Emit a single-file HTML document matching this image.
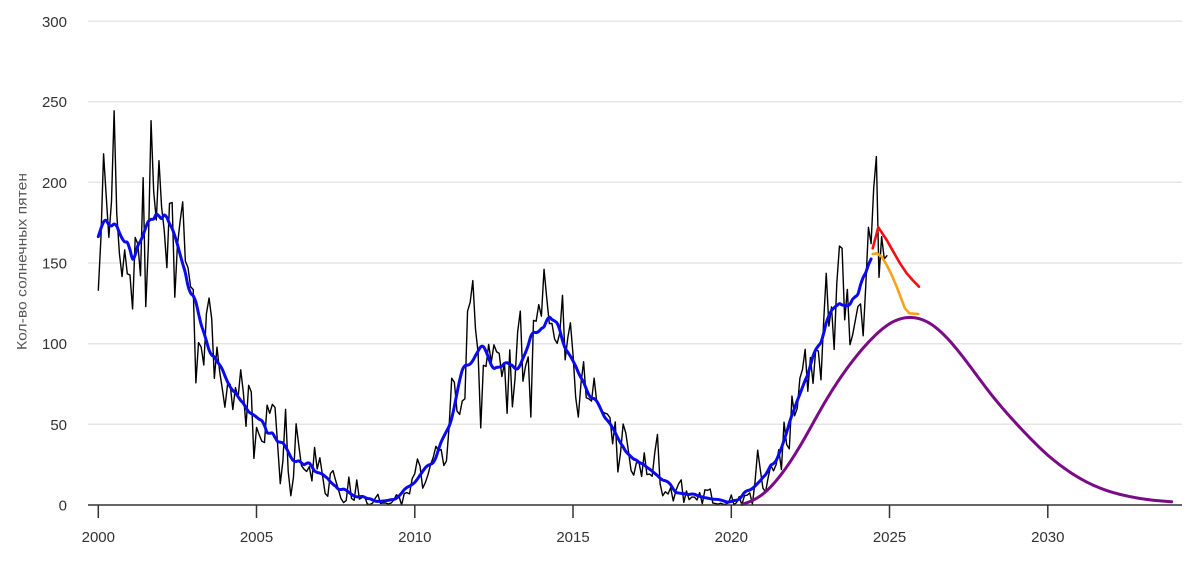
<!DOCTYPE html>
<html>
<head>
<meta charset="utf-8">
<style>
  html,body{margin:0;padding:0;background:#fff;}
  svg{display:block;}
  text{font-family:"Liberation Sans","DejaVu Sans",sans-serif;}
</style>
</head>
<body>
<svg id="chart" width="1200" height="561" viewBox="0 0 1200 561" xmlns="http://www.w3.org/2000/svg">
  <rect x="0" y="0" width="1200" height="561" fill="#ffffff"/>
  <g stroke="#e6e6e6" stroke-width="1.5">
    <line x1="88" y1="21.3" x2="1182" y2="21.3"/>
    <line x1="88" y1="101.7" x2="1182" y2="101.7"/>
    <line x1="88" y1="182.3" x2="1182" y2="182.3"/>
    <line x1="88" y1="263" x2="1182" y2="263"/>
    <line x1="88" y1="343.7" x2="1182" y2="343.7"/>
    <line x1="88" y1="424.3" x2="1182" y2="424.3"/>
  </g>
  <g fill="#333" font-size="15" text-anchor="end">
    <text x="67" y="26.8">300</text>
    <text x="67" y="107.2">250</text>
    <text x="67" y="187.8">200</text>
    <text x="67" y="268.5">150</text>
    <text x="67" y="349.2">100</text>
    <text x="67" y="429.8">50</text>
    <text x="67" y="510.5">0</text>
  </g>
  <text x="0" y="0" transform="translate(26.5,261.5) rotate(-90)" text-anchor="middle" font-size="14" fill="#555" textLength="177" lengthAdjust="spacingAndGlyphs">Кол-во солнечных пятен</text>

  <g id="series"></g>

  <line x1="88" y1="505" x2="1182" y2="505" stroke="#333" stroke-width="1.5"/>
  <g stroke="#333" stroke-width="1.5">
    <line x1="98.3" y1="505" x2="98.3" y2="518"/>
    <line x1="256.5" y1="505" x2="256.5" y2="518"/>
    <line x1="414.8" y1="505" x2="414.8" y2="518"/>
    <line x1="573" y1="505" x2="573" y2="518"/>
    <line x1="731.3" y1="505" x2="731.3" y2="518"/>
    <line x1="889.5" y1="505" x2="889.5" y2="518"/>
    <line x1="1047.8" y1="505" x2="1047.8" y2="518"/>
  </g>
  <g fill="#333" font-size="15" text-anchor="middle">
    <text x="98.3" y="542">2000</text>
    <text x="256.5" y="542">2005</text>
    <text x="414.8" y="542">2010</text>
    <text x="573" y="542">2015</text>
    <text x="731.3" y="542">2020</text>
    <text x="889.5" y="542">2025</text>
    <text x="1047.8" y="542">2030</text>
  </g>
</svg>
<script>
(function(){
var d=[
133.1,165.7,217.7,191.5,165.9,188.0,244.3,180.5,156.0,141.6,158.1,143.3,
142.6,121.5,165.8,161.7,142.1,202.9,123.0,161.5,238.2,194.1,176.6,213.4,
184.6,170.2,147.1,186.9,187.5,128.8,161.0,175.6,187.9,151.2,147.2,135.3,
133.5,75.7,100.7,97.9,86.8,118.7,128.3,115.4,78.5,97.8,82.9,72.2,
60.6,74.6,74.8,59.2,72.8,66.5,83.8,69.7,48.8,74.2,70.1,28.9,
48.1,43.5,39.6,38.7,61.9,56.8,62.4,60.5,37.2,13.2,27.5,59.3,
20.9,5.7,17.3,50.3,37.2,24.5,22.2,20.8,23.7,14.9,35.7,22.3,
29.3,18.4,7.2,5.4,19.5,21.3,15.1,9.8,4.0,1.5,2.8,17.3,
4.1,2.9,15.5,3.6,4.6,5.2,0.6,0.3,1.2,4.2,6.6,1.0,
1.3,1.2,0.6,1.2,2.9,6.3,5.5,0.0,7.1,7.7,6.9,16.3,
19.5,28.5,24.0,10.4,13.9,18.8,25.2,29.6,36.4,33.6,34.4,24.5,
27.3,48.3,78.6,76.1,58.2,56.1,64.5,65.8,120.1,125.7,139.1,109.3,
94.4,47.8,86.6,85.9,99.5,88.6,99.3,95.0,94.0,79.6,87.8,56.8,
96.1,60.9,78.3,107.3,120.2,76.7,86.2,91.8,54.5,114.4,113.9,124.2,
117.0,146.1,128.7,112.5,112.5,102.9,100.2,106.9,130.0,90.0,103.6,112.9,
93.0,66.7,54.5,75.3,88.8,66.5,65.8,64.4,78.6,63.6,62.2,58.0,
57.0,56.4,54.1,37.9,51.5,20.5,32.4,50.2,44.6,33.4,21.4,18.5,
26.1,26.4,17.7,32.3,18.9,19.2,17.8,32.6,43.7,13.2,5.7,8.2,
6.8,10.7,2.5,8.9,13.1,15.6,1.6,8.7,3.3,4.9,4.9,3.1,
7.7,0.8,9.4,9.1,9.9,1.2,0.9,0.5,1.1,0.4,0.5,1.6,
6.2,0.2,1.5,5.2,0.2,5.8,6.1,7.5,0.6,14.4,34.0,21.8,
10.4,8.2,17.2,24.5,21.2,25.0,34.3,22.0,51.3,37.4,34.8,67.5,
55.3,59.9,78.5,84.1,96.5,70.5,91.4,75.4,96.3,95.4,77.6,113.1,
143.6,110.9,122.8,96.4,137.4,160.5,159.1,114.8,133.6,99.4,105.4,114.2,
123.0,124.7,104.9,136.5,172.1,162.0,196.6,216.0,141.1,166.3,152.5,154.5
];
var pre=[166,137,104,170,194,124];
function X(y){return 98.3+y*31.65;}
function Y(v){return 505-v*1.6133;}
var NS="http://www.w3.org/2000/svg";
var g=document.getElementById("series");
function path(dstr,color,w){
  var p=document.createElementNS(NS,"path");
  p.setAttribute("d",dstr);p.setAttribute("fill","none");
  p.setAttribute("stroke",color);p.setAttribute("stroke-width",w);
  p.setAttribute("stroke-linejoin","round");p.setAttribute("stroke-linecap","round");
  g.appendChild(p);
}
function poly(pts){
  var s="M"+pts[0][0].toFixed(2)+","+pts[0][1].toFixed(2);
  for(var i=1;i<pts.length;i++) s+="L"+pts[i][0].toFixed(2)+","+pts[i][1].toFixed(2);
  return s;
}
function cr(pts){
  var s="M"+pts[0][0]+","+pts[0][1];
  for(var i=0;i<pts.length-1;i++){
    var p0=pts[i>0?i-1:0],p1=pts[i],p2=pts[i+1],p3=pts[i+2<pts.length?i+2:pts.length-1];
    var c1x=p1[0]+(p2[0]-p0[0])/6,c1y=p1[1]+(p2[1]-p0[1])/6;
    var c2x=p2[0]-(p3[0]-p1[0])/6,c2y=p2[1]-(p3[1]-p1[1])/6;
    s+="C"+c1x.toFixed(2)+","+c1y.toFixed(2)+" "+c2x.toFixed(2)+","+c2y.toFixed(2)+" "+p2[0].toFixed(2)+","+p2[1].toFixed(2);
  }
  return s;
}
function natSpline(xs,ys){
  var n=xs.length,h=[],i;
  for(i=0;i<n-1;i++) h.push(xs[i+1]-xs[i]);
  var a=[],b=[],c=[],r=[];
  for(i=0;i<n;i++){
    if(i===0||i===n-1){a.push(0);b.push(1);c.push(0);r.push(0);}
    else{
      a.push(h[i-1]);b.push(2*(h[i-1]+h[i]));c.push(h[i]);
      r.push(6*((ys[i+1]-ys[i])/h[i]-(ys[i]-ys[i-1])/h[i-1]));
    }
  }
  for(i=1;i<n;i++){var m=a[i]/b[i-1];b[i]-=m*c[i-1];r[i]-=m*r[i-1];}
  var M=new Array(n);M[n-1]=r[n-1]/b[n-1];
  for(i=n-2;i>=0;i--) M[i]=(r[i]-c[i]*M[i+1])/b[i];
  return function(x){
    var k=0;while(k<n-2&&x>xs[k+1])k++;
    var hh=h[k],A=(xs[k+1]-x)/hh,B=(x-xs[k])/hh;
    return A*ys[k]+B*ys[k+1]+((A*A*A-A)*M[k]+(B*B*B-B)*M[k+1])*hh*hh/6;
  };
}
// black monthly
var bp=[];
for(var i=0;i<d.length;i++) bp.push([X(i/12),Y(d[i])]);
path(poly(bp),"#000","1.4");
// blue smoothed
var all=pre.concat(d);
var sp=[];
for(var i=0;i<=d.length-7;i++){
  var k=i+6,s=0.5*all[k-6]+0.5*all[k+6];
  for(var j=k-5;j<=k+5;j++) s+=all[j];
  sp.push([X(i/12),Y(s/12)]);
}
path(cr(sp),"#0a0af0","3");
// purple prediction (natural spline)
var pv=[[742,0.3],[760,5.5],[780,18],[800,36.5],[823.3,62],[840,78.5],[856.7,92.5],[873.3,104],[890,112.5],[908,116.2],[930,112.5],[950,101.5],[970,86],[990,69.5],[1013.3,52.5],[1030,41.5],[1046.7,31.5],[1065,22.5],[1080,16.5],[1100,10.5],[1130,5.2],[1150,3.2],[1171.7,2]];
var f=natSpline(pv.map(function(a){return a[0];}),pv.map(function(a){return a[1];}));
var pp=[];
for(var x=742;x<=1171.7;x+=1.5){pp.push([x,Y(Math.max(0,f(x)))]);}
pp.push([1171.7,Y(2)]);
path(poly(pp),"#7b0a86","3");
// red
var rp=[[872.7,248.3],[878.3,227.3],[886.7,240],[893.3,251.7],[900,263.3],[906.7,273.3],[913,280.5],[919,286.7]];
path(poly(rp),"#f01010","2.6");
// orange
var op=[[872.7,254],[876.7,253.3],[881.7,256.7],[886.7,265],[891.7,275],[896.7,286.7],[901.7,300],[905,308.3],[909.3,313.3],[918.3,314]];
path(poly(op),"#f7a21b","2.6");
})();
</script>
</body>
</html>
